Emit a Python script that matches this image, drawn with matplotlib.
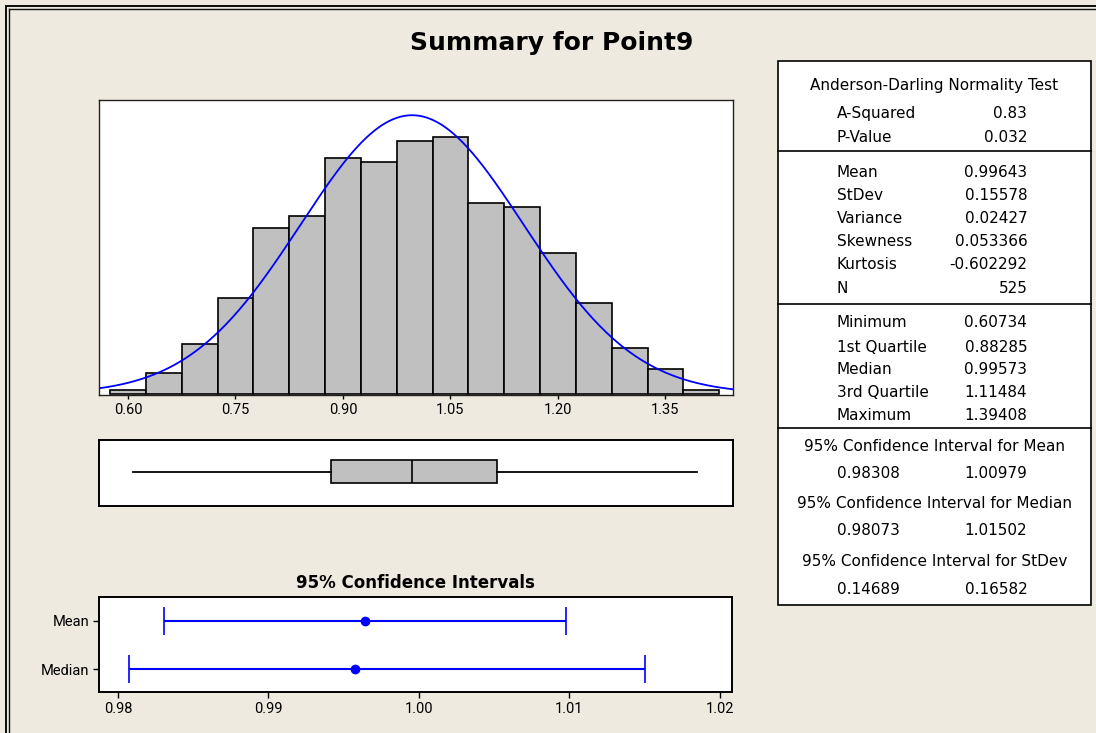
import numpy as np
import matplotlib
matplotlib.use("Agg")
import matplotlib.pyplot as plt
from matplotlib.lines import Line2D
from matplotlib.patches import Rectangle

# ---------------- data ----------------
bin_edges = [0.575, 0.625, 0.675, 0.725, 0.775, 0.825, 0.875, 0.925, 0.975,
             1.025, 1.075, 1.125, 1.175, 1.225, 1.275, 1.325, 1.375, 1.425]
bin_counts = [1, 5, 12, 23, 40, 43, 57, 56, 61, 62, 46, 45, 34, 22, 11, 6, 1]

mean_val = 0.99643
stdev_val = 0.15578
n_obs = 525
minimum_val = 0.60734
q1_val = 0.88285
median_val = 0.99573
q3_val = 1.11484
maximum_val = 1.39408

ci_labels = ["Mean", "Median"]
ci_centers = [0.99643, 0.99573]
ci_lower = [0.98308, 0.98073]
ci_upper = [1.00979, 1.01502]

hist_ticks = [0.60, 0.75, 0.90, 1.05, 1.20, 1.35]
ci_ticks = [0.98, 0.99, 1.00, 1.01, 1.02]

ad_rows = [("A-Squared", "0.83"), ("P-Value", "0.032")]
moment_rows = [("Mean", "0.99643"), ("StDev", "0.15578"), ("Variance", "0.02427"),
               ("Skewness", "0.053366"), ("Kurtosis", "-0.602292"), ("N", "525")]
quantile_rows = [("Minimum", "0.60734"), ("1st Quartile", "0.88285"),
                 ("Median", "0.99573"), ("3rd Quartile", "1.11484"),
                 ("Maximum", "1.39408")]
ci_rows = [("95% Confidence Interval for Mean", "0.98308", "1.00979"),
           ("95% Confidence Interval for Median", "0.98073", "1.01502"),
           ("95% Confidence Interval for StDev", "0.14689", "0.16582")]

# ---------------- layout helpers ----------------
W, H = 1096, 733
BG = "#EEEAE0"
TICKFONT = ["Roboto", "DejaVu Sans"]
plt.rcParams["font.family"] = ["DejaVu Sans"]


def fx(x):
    return x / W


def fy(y):
    return 1 - y / H


def rect_px(x0, y0, x1, y1):
    return [x0 / W, 1 - y1 / H, (x1 - x0) / W, (y1 - y0) / H]


fig = plt.figure(figsize=(W / 100, H / 100), dpi=100, facecolor=BG)

# window frame (double line on top and left)
for off, lw in [(5.5, 2.0), (8.8, 1.4)]:
    fig.add_artist(Line2D([fx(off), fx(off)], [0, fy(off + 0.5)],
                          transform=fig.transFigure, color="#111111", lw=lw * 0.72))
    fig.add_artist(Line2D([fx(off), 1], [fy(off + 0.5), fy(off + 0.5)],
                          transform=fig.transFigure, color="#111111", lw=lw * 0.72))

fig.text(fx(552), fy(43), "Summary for Point9", ha="center", va="center",
         fontsize=18, fontweight="bold")

# ---------------- histogram with normal fit ----------------
ax_h = fig.add_axes(rect_px(99.3, 100, 733, 395))
edges = np.array(bin_edges)
ax_h.bar(edges[:-1], bin_counts, width=np.diff(edges), align="edge",
         color="#C0C0C0", edgecolor="black", linewidth=1.2, zorder=2)
xlim_h = (0.560, 1.4442)
xs = np.linspace(xlim_h[0], xlim_h[1], 400)
bw = edges[1] - edges[0]
ys = n_obs * bw * np.exp(-0.5 * ((xs - mean_val) / stdev_val) ** 2) / (stdev_val * np.sqrt(2 * np.pi))
ax_h.plot(xs, ys, color="#0000FF", lw=1.3, zorder=3)
ax_h.set_xlim(*xlim_h)
ax_h.set_ylim(-0.3, 70.9)
ax_h.set_yticks([])
ax_h.set_xticks(hist_ticks)
ax_h.set_xticklabels([f"{t:.2f}" for t in hist_ticks], family=TICKFONT, fontsize=10.5)
ax_h.tick_params(axis="x", direction="out", length=3, width=1, pad=3)
for s in ax_h.spines.values():
    s.set_linewidth(1.0)
    s.set_color("#222222")

# ---------------- boxplot ----------------
ax_b = fig.add_axes(rect_px(99.3, 440, 733, 506))
ax_b.bxp([{"whislo": minimum_val, "q1": q1_val, "med": median_val,
           "q3": q3_val, "whishi": maximum_val, "fliers": []}],
         positions=[0.518], widths=0.348, orientation="horizontal",
         showcaps=False, showfliers=False, patch_artist=True,
         boxprops=dict(facecolor="#C0C0C0", edgecolor="black", linewidth=1.2),
         whiskerprops=dict(color="black", linewidth=1.3),
         medianprops=dict(color="black", linewidth=1.2))
ax_b.set_xlim(*xlim_h)
ax_b.set_ylim(0, 1)
ax_b.set_xticks([])
ax_b.set_yticks([])
for s in ax_b.spines.values():
    s.set_linewidth(1.4)

# ---------------- confidence intervals ----------------
ax_c = fig.add_axes(rect_px(98.8, 597.3, 732.4, 692.3))
ci_pos = [2, 1]
for lab, c, lo, hi, yp in zip(ci_labels, ci_centers, ci_lower, ci_upper, ci_pos):
    ax_c.errorbar([c], [yp], xerr=[[c - lo], [hi - c]], fmt="o", color="#0000FF",
                  ms=6, capsize=10, capthick=1.2, elinewidth=1.5)
ax_c.set_xlim(0.97872, 1.02085)
ax_c.set_ylim(0.524, 2.49)
ax_c.set_yticks(ci_pos)
ax_c.set_yticklabels(ci_labels, family=TICKFONT, fontsize=10.5)
ax_c.set_xticks(ci_ticks)
ax_c.set_xticklabels([f"{t:.2f}" for t in ci_ticks], family=TICKFONT, fontsize=10.5)
ax_c.tick_params(axis="both", direction="out", length=4, width=1, pad=3)
for s in ax_c.spines.values():
    s.set_linewidth(1.4)
ax_c.set_title("95% Confidence Intervals", fontsize=12, fontweight="bold", pad=7)

# ---------------- summary table ----------------
fig.add_artist(Rectangle((fx(778.3), fy(605)), (1090.7 - 778.3) / W, (605 - 61.4) / H,
                         transform=fig.transFigure, facecolor="white",
                         edgecolor="black", linewidth=1.2, zorder=1))
for ysep in [151.4, 304.3, 428.2]:
    fig.add_artist(Line2D([fx(778.3), fx(1090.7)], [fy(ysep), fy(ysep)],
                          transform=fig.transFigure, color="black", lw=1.2, zorder=2))

TFS = 11.0
XC, XL, XR = 934.5, 836.7, 1027.3


def tline(x, y, s, ha):
    fig.text(fx(x), fy(y), s, ha=ha, va="center", fontsize=TFS, zorder=3)


tline(XC, 85.4, "Anderson-Darling Normality Test", "center")
for (lab, val), y in zip(ad_rows, [113.2, 137.9]):
    tline(XL, y, lab, "left")
    tline(XR, y, val, "right")
for (lab, val), y in zip(moment_rows, [172.1, 195.0, 218.2, 241.8, 265.0, 288.2]):
    tline(XL, y, lab, "left")
    tline(XR, y, val, "right")
for (lab, val), y in zip(quantile_rows, [322.1, 347.1, 370.0, 392.9, 415.0]):
    tline(XL, y, lab, "left")
    tline(XR, y, val, "right")
for (head, lo, hi), (yh, yv) in zip(ci_rows, [(446.1, 473.6), (503.2, 530.7), (561.4, 589.6)]):
    tline(XC, yh, head, "center")
    tline(XL, yv, lo, "left")
    tline(XR, yv, hi, "right")

fig.savefig("out.png", dpi=100, facecolor=BG)
